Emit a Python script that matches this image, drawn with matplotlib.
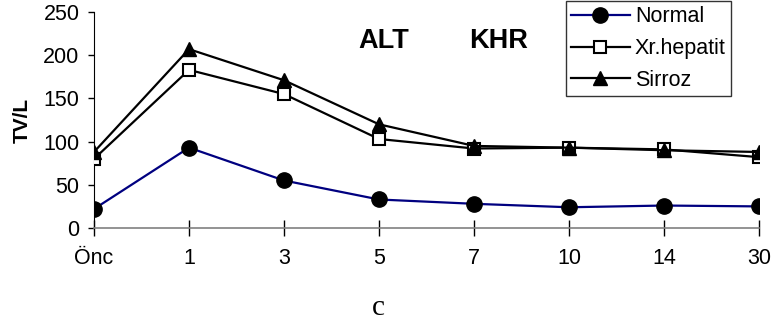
import matplotlib
matplotlib.use("Agg")
import matplotlib.pyplot as plt

days = ["Önc", "1", "3", "5", "7", "10", "14", "30"]
normal = [22, 93, 55, 33, 28, 24, 26, 25]
xr_hepatit = [80, 183, 155, 103, 92, 93, 91, 82]
sirroz = [88, 207, 171, 120, 95, 93, 90, 88]

plt.rcParams.update({"font.family": "Liberation Sans", "font.size": 15.5})
fig = plt.figure(figsize=(7.72, 3.26), dpi=100)
ax = fig.add_axes([94 / 772, 98 / 326, 665 / 772, 216 / 326])

x = range(len(days))
ax.plot(x, normal, "-o", color="#000080", lw=1.6, ms=11,
        mfc="black", mec="black", label="Normal", zorder=3)
ax.plot(x, xr_hepatit, "-s", color="black", lw=1.6, ms=9,
        mfc="white", mec="black", mew=1.5, label="Xr.hepatit", zorder=4)
ax.plot(x, sirroz, "-^", color="black", lw=1.6, ms=10,
        mfc="black", mec="black", label="Sirroz", zorder=5)

ax.set_xlim(0, len(days) - 1)
ax.set_ylim(0, 250)
ax.set_xticks(list(x))
ax.set_xticklabels(days)
ax.set_yticks(range(0, 251, 50))
ax.tick_params(axis="x", direction="inout", length=11, pad=9, width=1)
ax.tick_params(axis="y", direction="out", length=4.5, width=1, pad=6)
for s in ["top", "right"]:
    ax.spines[s].set_visible(False)
ax.spines["left"].set_color("black")
ax.spines["bottom"].set_color("#808080")
ax.spines["bottom"].set_linewidth(1.2)
ax.set_ylabel("TV/L", fontweight="bold", fontsize=15, labelpad=8)

fig.text(358 / 772, 1 - 41 / 326, "ALT", fontweight="bold", fontsize=19.5,
         va="center", ha="left")
fig.text(469 / 772, 1 - 41 / 326, "KHR", fontweight="bold", fontsize=19.5,
         va="center", ha="left")
fig.text(378 / 772, 1 - 308 / 326, "c", family="Liberation Serif",
         fontsize=21, ha="center", va="center")

leg = fig.legend(loc="upper left", bbox_to_anchor=(566 / 772, 1 - 1 / 326),
                 fontsize=15.5, frameon=True, fancybox=False, borderpad=0.25,
                 handlelength=2.7, handletextpad=0.25, labelspacing=0.5,
                 borderaxespad=0)
leg.get_frame().set_edgecolor("black")
leg.get_frame().set_linewidth(1)

fig.savefig("out.png", dpi=100)
